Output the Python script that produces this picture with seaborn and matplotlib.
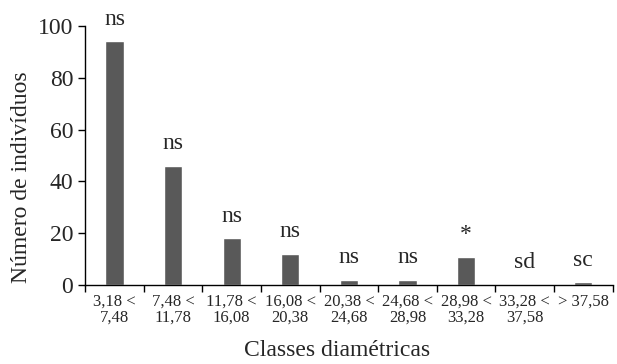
import matplotlib
matplotlib.use("Agg")
import matplotlib.pyplot as plt
import seaborn as sns
import pandas as pd
import numpy as np

classes = ["3,18 <\n7,48", "7,48 <\n11,78", "11,78 <\n16,08", "16,08 <\n20,38",
           "20,38 <\n24,68", "24,68 <\n28,98", "28,98 <\n33,28", "33,28 <\n37,58",
           "> 37,58"]
individuos = [94, 46, 18, 12, 2, 2, 11, 0, 1]
signif = ["ns", "ns", "ns", "ns", "ns", "ns", "*", "sd", "sc"]

sns.set_theme(style="ticks")
plt.rcParams['font.family'] = ['Liberation Serif', 'DejaVu Serif']

df = pd.DataFrame({"classe": classes, "n": individuos})

fig = plt.figure(figsize=(6.17, 3.64), dpi=100)
ax = fig.add_axes([0.138, 0.217, 0.855, 0.712])

sns.barplot(data=df, x="classe", y="n", color="#595959", width=0.31,
            saturation=1, ax=ax)

for i, (v, s) in enumerate(zip(individuos, signif)):
    ax.text(i, v + 4.5, s, ha="center", va="bottom", fontsize=17)

ax.set_ylim(0, 100)
ax.set_xlim(-0.5, len(classes) - 0.5)
ax.set_yticks([0, 20, 40, 60, 80, 100])
ax.tick_params(axis="y", labelsize=17, length=5, width=1, color="black", direction="out")
ax.tick_params(axis="x", which="major", length=0, labelsize=12, pad=6)
ax.set_xticks(np.arange(-0.5, len(classes)), minor=True)
ax.tick_params(axis="x", which="minor", length=5, width=1, color="black", direction="out")
for lab in ax.get_xticklabels():
    lab.set_linespacing(1.05)

ax.set_xlabel("Classes diamétricas", fontsize=17)
ax.set_ylabel("Número de indivíduos", fontsize=17)
ax.xaxis.set_label_coords(0.477, -0.212)
ax.yaxis.set_label_coords(-0.1, 0.417)

for sp in ["top", "right"]:
    ax.spines[sp].set_visible(False)
for sp in ["left", "bottom"]:
    ax.spines[sp].set_color("black")
    ax.spines[sp].set_linewidth(1)

fig.savefig("out.png", dpi=100)
